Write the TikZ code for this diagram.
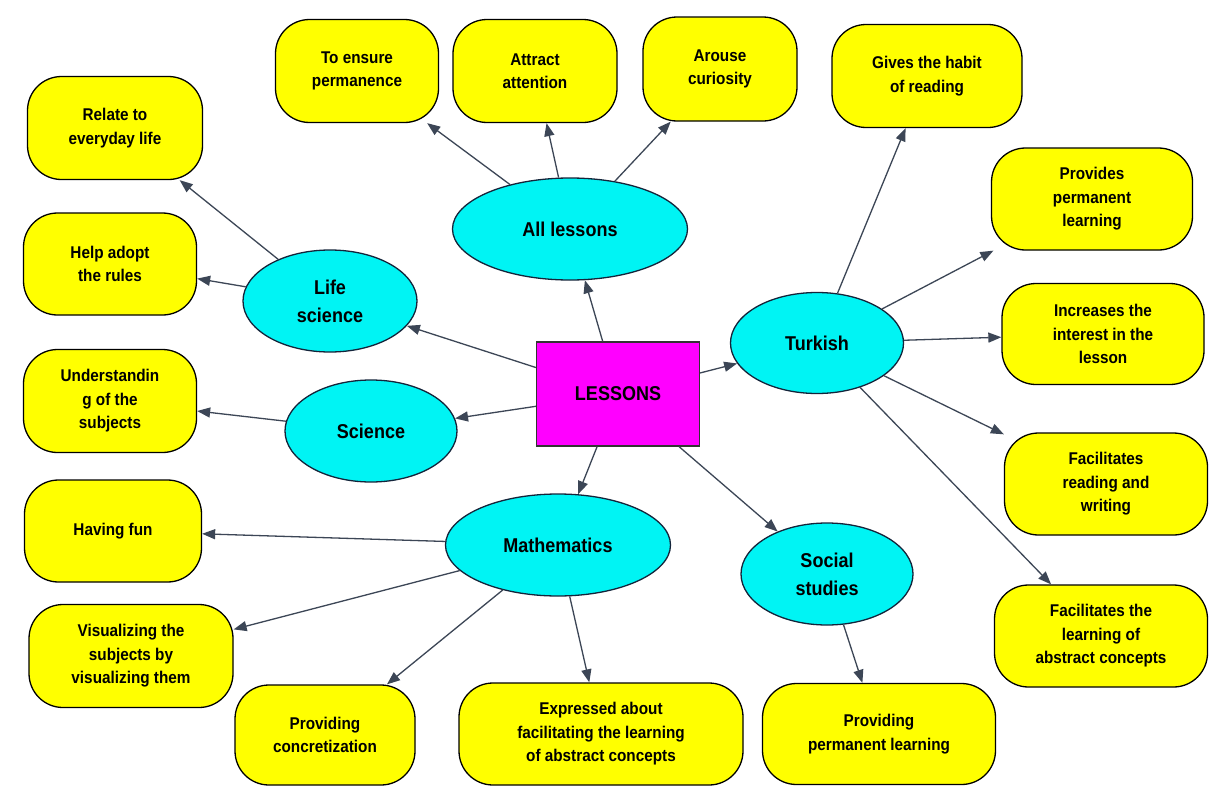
\documentclass[tikz,border=0pt]{standalone}
\usepackage{fontspec}
\setmainfont{Liberation Sans}[FakeStretch=0.9]
\usetikzlibrary{shapes.geometric,arrows.meta}
\definecolor{boxyellow}{HTML}{FFFF00}
\definecolor{ellcyan}{HTML}{00F4F4}
\definecolor{rootmag}{HTML}{FF00FF}
\definecolor{arrowcol}{HTML}{3C4656}
\definecolor{ellborder}{HTML}{14243A}
\tikzset{
  leaf/.style={draw=black, line width=1.3pt, fill=boxyellow, rounded corners=34pt,
    inner sep=0pt, align=center, font=\bfseries\fontsize{17}{23.5}\selectfont},
  topic/.style={ellipse, draw=ellborder, line width=1.3pt, fill=ellcyan,
    inner sep=0pt, align=center, font=\bfseries\fontsize{20}{28}\selectfont},
  rootbox/.style={rectangle, draw=black!80, line width=1.2pt, fill=rootmag,
    inner sep=0pt, font=\bfseries\fontsize{20}{24}\selectfont},
  link/.style={draw=arrowcol, line width=1.3pt, -{Triangle[length=13pt,width=10pt]}}
}
\begin{document}
\begin{tikzpicture}[x=1pt,y=-1pt]
\useasboundingbox[fill=white] (0,0) rectangle (1210,787);
% root
\node[rootbox, minimum width=163pt, minimum height=104pt] (root) at (618,394) {LESSONS};
% topics
\node[topic, minimum width=235pt, minimum height=102pt] (all) at (570,229) {All lessons};
\node[topic, minimum width=174pt, minimum height=102pt] (life) at (330,301) {Life\\science};
\node[topic, minimum width=173pt, minimum height=101pt] (turk) at (817,343) {Turkish};
\node[topic, minimum width=172pt, minimum height=102pt] (sci) at (371,431) {Science};
\node[topic, minimum width=225pt, minimum height=102pt] (math) at (558,545) {Mathematics};
\node[topic, minimum width=172pt, minimum height=102pt] (soc) at (827,574) {Social\\studies};
% leaves
\node[leaf, minimum width=163pt, minimum height=103pt] (ensure) at (357,71) {To ensure\\permanence};
\node[leaf, minimum width=164pt, minimum height=103pt] (attract) at (535,71) {Attract\\attention};
\node[leaf, minimum width=154pt, minimum height=104pt] (arouse) at (720,69) {Arouse\\curiosity};
\node[leaf, minimum width=190pt, minimum height=103pt] (gives) at (927,76) {Gives the habit\\of reading};
\node[leaf, minimum width=175pt, minimum height=103pt] (relate) at (115,128) {Relate to\\everyday life};
\node[leaf, minimum width=173pt, minimum height=102pt] (help) at (110,264) {Help adopt\\the rules};
\node[leaf, minimum width=201pt, minimum height=102pt] (provides) at (1092,199) {Provides\\permanent\\learning};
\node[leaf, minimum width=202pt, minimum height=101pt] (increases) at (1103,334) {Increases the\\interest in the\\lesson};
\node[leaf, minimum width=173pt, minimum height=103pt] (underst) at (110,401) {Understandin\\g of the\\subjects};
\node[leaf, minimum width=177pt, minimum height=102pt] (fun) at (113,531) {Having fun};
\node[leaf, minimum width=204pt, minimum height=103pt] (visual) at (131,656) {Visualizing the\\subjects by\\visualizing them};
\node[leaf, minimum width=180pt, minimum height=100pt] (concr) at (325,735) {Providing\\concretization};
\node[leaf, minimum width=284pt, minimum height=102pt] (expressed) at (601,734) {Expressed about\\facilitating the learning\\of abstract concepts};
\node[leaf, minimum width=233pt, minimum height=101pt] (provperm) at (879,734) {Providing\\permanent learning};
\node[leaf, minimum width=203pt, minimum height=102pt] (facread) at (1106,484) {Facilitates\\reading and\\writing};
\node[leaf, minimum width=213pt, minimum height=102pt] (faclearn) at (1101,636) {Facilitates the\\learning of\\abstract concepts};
% connectors
\draw[link] (root) -- (all);
\draw[link] (root) -- (life);
\draw[link] (root) -- (sci);
\draw[link] (root) -- (turk);
\draw[link] (root) -- (math);
\draw[link] (root) -- (soc);
\draw[link] (all) -- (ensure);
\draw[link] (all) -- (attract);
\draw[link] (all) -- (arouse);
\draw[link] (life) -- (relate);
\draw[link] (life) -- (help);
\draw[link] (sci) -- (underst);
\draw[link] (turk) -- (gives);
\draw[link] (turk) -- (provides);
\draw[link] (turk) -- (increases);
\draw[link] (turk) -- (facread);
\draw[link] (turk) -- (faclearn);
\draw[link] (math) -- (fun);
\draw[link] (math) -- (visual);
\draw[link] (math) -- (concr);
\draw[link] (math) -- (expressed);
\draw[link] (soc) -- (provperm);
\end{tikzpicture}
\end{document}
